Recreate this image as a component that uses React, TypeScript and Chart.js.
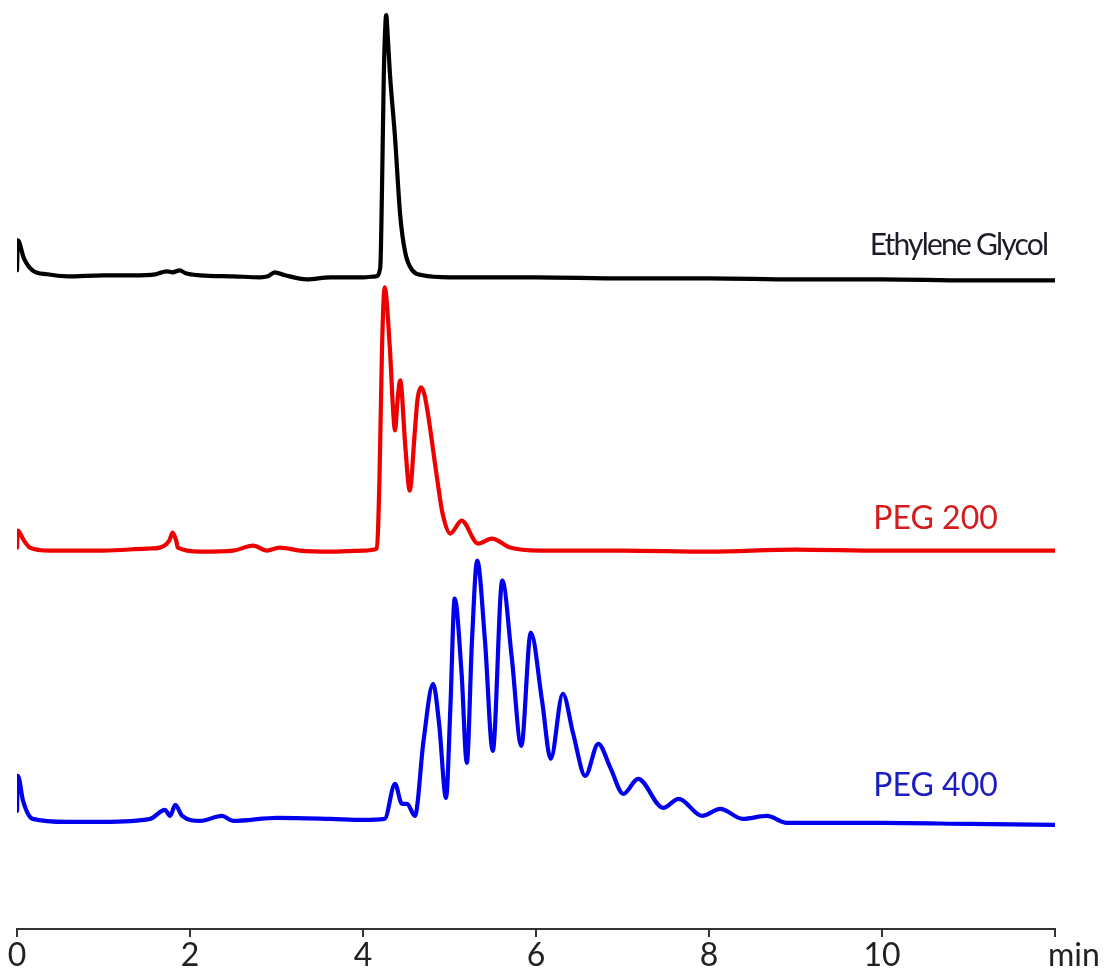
import React, { useEffect, useRef } from "react";
import { Chart, registerables } from "chart.js";

Chart.register(...registerables);

// Retention time axis (min)
const X_MIN = 0;
const X_MAX = 12;
const X_STEP = 2;
const X_UNIT_LABEL = "min";

// Ethylene Glycol trace: time (min) and detector signal above its own baseline
const EG_TIME = [0, 0.01, 0.08, 0.18, 0.35, 0.58, 1.0, 1.34, 1.6, 1.73, 1.8, 1.88, 1.95, 2.12, 2.5, 2.81, 2.9, 2.98, 3.1, 3.35, 3.62, 4.0, 4.15, 4.2, 4.22, 4.24, 4.26, 4.27, 4.28, 4.31, 4.37, 4.43, 4.49, 4.57, 4.69, 5.0, 6.0, 7.0, 8.0, 9.0, 10.0, 11.0, 12.0];
const EG_SIGNAL = [7, 37, 19, 7, 3, 1, 2, 2, 3, 6, 5, 7, 4, 2, 1, 0, 1, 5, 2, -2, 0, 0, 1, 10, 90, 200, 255, 262, 250, 205, 140, 62, 24, 7, 2, 0, 0, -1, -1, -2, -2, -3, -3];

// PEG 200 trace
const PEG200_TIME = [0, 0.01, 0.08, 0.15, 0.38, 1.0, 1.5, 1.65, 1.76, 1.8, 1.84, 1.86, 2.12, 2.5, 2.73, 2.89, 3.04, 3.27, 3.62, 4.0, 4.16, 4.19, 4.22, 4.25, 4.31, 4.35, 4.37, 4.4, 4.43, 4.49, 4.54, 4.6, 4.63, 4.67, 4.71, 4.75, 4.86, 4.92, 5.01, 5.14, 5.33, 5.49, 5.7, 6.05, 7.0, 8.0, 9.0, 10.0, 11.0, 12.0];
const PEG200_SIGNAL = [2, 19, 9, 2, -1, -1, 1, 2, 9, 17, 9, 2, -2, -1, 4, -1, 2, -1, -2, -1, 1, 69, 202, 262, 202, 136, 119, 150, 169, 102, 59, 119, 150, 162, 155, 136, 69, 36, 16, 29, 6, 11, 2, -1, -1, -2, 0, -1, -1, -1];

// PEG 400 trace
const PEG400_TIME = [0, 0.01, 0.07, 0.18, 0.58, 1.0, 1.54, 1.71, 1.77, 1.83, 1.91, 2.12, 2.37, 2.5, 3.01, 3.62, 4.0, 4.25, 4.37, 4.45, 4.51, 4.6, 4.7, 4.81, 4.88, 4.96, 5.01, 5.06, 5.14, 5.2, 5.26, 5.32, 5.41, 5.5, 5.61, 5.72, 5.83, 5.94, 6.07, 6.17, 6.31, 6.43, 6.57, 6.72, 6.86, 7.01, 7.18, 7.47, 7.65, 7.92, 8.13, 8.39, 8.67, 8.9, 9.5, 10.0, 11.0, 12.0];
const PEG400_SIGNAL = [11, 46, 21, 3, 0, 0, 3, 12, 6, 17, 6, 1, 6, 1, 4, 3, 2, 3, 38, 18, 18, 6, 81, 138, 98, 24, 114, 223, 148, 59, 181, 261, 181, 71, 241, 164, 76, 189, 121, 63, 128, 88, 46, 78, 54, 28, 43, 14, 23, 6, 13, 3, 6, -1, -1, -1, -2, -3];

// Vertical stacking of the traces (signal units)
const EG_OFFSET = 651;
const PEG200_OFFSET = 379;
const PEG400_OFFSET = 107;
const Y_MAX = 928;

const SERIES_NAMES = ["Ethylene Glycol", "PEG 200", "PEG 400"];
const LINE_COLORS = ["#000000", "#ee0000", "#0000ee"];
const TEXT_COLORS = ["#1c1c28", "#d41c1c", "#1c1cc0"];
// label anchor (min, signal units)
const LABEL_X = [11.91, 9.9, 9.9];
const LABEL_Y = [673, 400, 133];
const LABEL_ALIGN: CanvasTextAlign[] = ["right", "left", "left"];
const LABEL_SIZE = [30, 32, 32];
const LABEL_SPACING = ["-1.8px", "0px", "0px"];

const FONT = "Lato, 'Open Sans', sans-serif";

function toPoints(t: number[], s: number[], off: number) {
  return t.map((x, i) => ({ x, y: s[i] + off }));
}

const TICK_LEN = 8;
const TICK_PAD = 9;
const TICK_SIZE = 32;
const TICK_LH = 0.6;
const X_AXIS_HEIGHT = 43;

const labelsPlugin = {
  id: "traceLabels",
  afterDatasetsDraw(chart: any) {
    const { ctx, scales } = chart;
    const xs = scales.x;
    const ys = scales.y;
    ctx.save();
    ctx.textBaseline = "alphabetic";
    for (let i = 0; i < SERIES_NAMES.length; i++) {
      ctx.font = `${LABEL_SIZE[i]}px ${FONT}`;
      ctx.fillStyle = TEXT_COLORS[i];
      ctx.textAlign = LABEL_ALIGN[i];
      (ctx as any).letterSpacing = LABEL_SPACING[i];
      ctx.fillText(SERIES_NAMES[i], xs.getPixelForValue(LABEL_X[i]), ys.getPixelForValue(LABEL_Y[i]));
    }
    (ctx as any).letterSpacing = "0px";
    // unit label at axis end
    ctx.font = `${TICK_SIZE}px ${FONT}`;
    ctx.fillStyle = "#222222";
    ctx.textAlign = "left";
    ctx.textBaseline = "middle";
    ctx.fillText(X_UNIT_LABEL, xs.getPixelForValue(X_MAX) - 7, xs.top + TICK_LEN + TICK_PAD + (TICK_SIZE * TICK_LH) / 2);
    ctx.restore();
  },
};

export default function App() {
  const ref = useRef<HTMLCanvasElement>(null);
  useEffect(() => {
    if (!ref.current) return;
    const chart = new Chart(ref.current, {
      type: "line",
      data: {
        datasets: [
          { label: SERIES_NAMES[0], data: toPoints(EG_TIME, EG_SIGNAL, EG_OFFSET), borderColor: LINE_COLORS[0] },
          { label: SERIES_NAMES[1], data: toPoints(PEG200_TIME, PEG200_SIGNAL, PEG200_OFFSET), borderColor: LINE_COLORS[1] },
          { label: SERIES_NAMES[2], data: toPoints(PEG400_TIME, PEG400_SIGNAL, PEG400_OFFSET), borderColor: LINE_COLORS[2] },
        ].map((d) => ({
          ...d,
          borderWidth: 4.2,
          pointRadius: 0,
          fill: false,
          cubicInterpolationMode: "monotone" as const,
          borderJoinStyle: "round" as const,
          borderCapStyle: "round" as const,
        })),
      },
      options: {
        animation: false,
        responsive: false,
        devicePixelRatio: 1,
        layout: { padding: { left: 17, right: 50, top: 0, bottom: 0 } },
        plugins: { legend: { display: false }, tooltip: { enabled: false } },
        scales: {
          x: {
            type: "linear",
            min: X_MIN,
            max: X_MAX,
            afterFit: (scale: any) => {
              scale.height = X_AXIS_HEIGHT;
              scale.paddingLeft = 0;
              scale.paddingRight = 0;
            },
            border: { display: true, color: "#333333", width: 2 },
            grid: { display: true, drawOnChartArea: false, tickLength: TICK_LEN, color: "#333333", lineWidth: 2 },
            ticks: {
              stepSize: X_STEP,
              padding: TICK_PAD,
              color: "#222222",
              font: { family: FONT, size: TICK_SIZE, lineHeight: TICK_LH },
              maxRotation: 0,
              autoSkip: false,
              callback: (v: any) => (Number(v) === X_MAX ? "" : String(v)),
            },
          },
          y: { type: "linear", min: 0, max: Y_MAX, display: false },
        },
      },
      plugins: [labelsPlugin],
    });
    return () => chart.destroy();
  }, []);
  return (
    <div style={{ position: "absolute", left: 0, top: 0, width: 1105, height: 972, background: "#fff" }}>
      <canvas ref={ref} width={1105} height={972} />
    </div>
  );
}
